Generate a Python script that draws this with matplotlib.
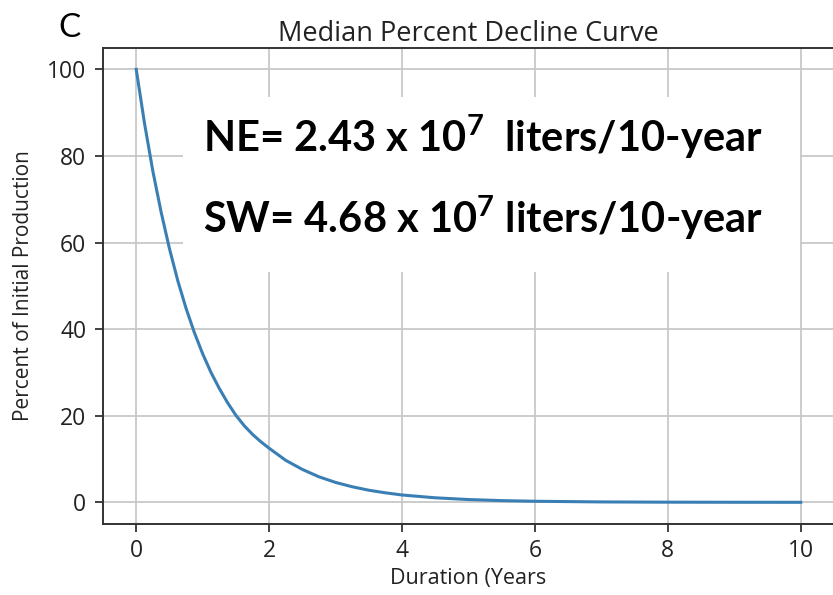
import matplotlib
matplotlib.use("Agg")
import matplotlib.pyplot as plt
from matplotlib.patches import Rectangle

# decline curve
years = [0, 0.125, 0.25, 0.375, 0.5, 0.625, 0.75, 0.875, 1.0, 1.125, 1.25, 1.375,
         1.5, 1.625, 1.75, 1.875, 2.0, 2.25, 2.5, 2.75, 3.0, 3.25, 3.5, 3.75,
         4.0, 4.5, 5.0, 5.5, 6.0, 7.0, 8.0, 9.0, 10.0]
percent = [100, 87.5, 76.5, 67.0, 58.6, 51.2, 44.8, 39.2, 34.3, 30.0, 26.3, 23.0,
           20.1, 17.7, 15.7, 14.0, 12.5, 9.7, 7.6, 5.9, 4.6, 3.6, 2.8, 2.2,
           1.7, 1.05, 0.65, 0.4, 0.25, 0.1, 0.04, 0.02, 0.01]

x_ticks = [0, 2, 4, 6, 8, 10]
y_ticks = [0, 20, 40, 60, 80, 100]

note_lines = [r"NE= 2.43 x 10$^7$  liters/10-year",
              r"SW= 4.68 x 10$^7$ liters/10-year"]

plt.rcParams['font.family'] = ['Open Sans', 'DejaVu Sans']
plt.rcParams['mathtext.fontset'] = 'custom'
plt.rcParams['mathtext.rm'] = 'Lato:bold'
plt.rcParams['mathtext.it'] = 'Lato:bold'
plt.rcParams['mathtext.bf'] = 'Lato:bold'

fig = plt.figure(figsize=(8.33, 5.95), dpi=100)
ax = fig.add_axes([103 / 833, 71 / 595, 731 / 833, 476.3 / 595])

ax.plot(years, percent, color='#3a7fb4', linewidth=2.2, zorder=4)
ax.set_xlim(-0.5, 10.5)
ax.set_ylim(-5, 105)
ax.set_xticks(x_ticks)
ax.set_yticks(y_ticks)
ax.grid(True, color='#c8c8c8', linewidth=1.3)
ax.set_axisbelow(True)
for s in ax.spines.values():
    s.set_color('#333333')
    s.set_linewidth(1.4)
ax.tick_params(labelsize=16.5, length=6, width=1.3, color='#333333',
               labelcolor='#222222')
ax.tick_params(axis='y', pad=6)
ax.tick_params(axis='x', pad=5)

ax.set_title("Median Percent Decline Curve", fontsize=19.5, color='#222222', pad=5)
ax.set_xlabel("Duration (Years", fontsize=15.5, color='#222222')
ax.set_ylabel("Percent of Initial Production", fontsize=15, color='#222222')
ax.xaxis.set_label_coords(0.5, -0.093)
ax.yaxis.set_label_coords(-0.095, 0.5)

# white box behind the volume notes
fig.patches.append(Rectangle((183 / 833, 1 - 272 / 595), 617 / 833, 175 / 595,
                             transform=fig.transFigure, facecolor='white',
                             edgecolor='none', zorder=3))
fig.text(203 / 833, 1 - 152 / 595, note_lines[0], fontsize=30, family='Lato',
         fontweight='bold', va='baseline', ha='left', zorder=5)
fig.text(203 / 833, 1 - 233 / 595, note_lines[1], fontsize=30, family='Lato',
         fontweight='bold', va='baseline', ha='left', zorder=5)

fig.text(58 / 833, 1 - 37 / 595, "C", fontsize=24, family='Lato',
         va='baseline', ha='left')

fig.savefig("out.png", dpi=100)
